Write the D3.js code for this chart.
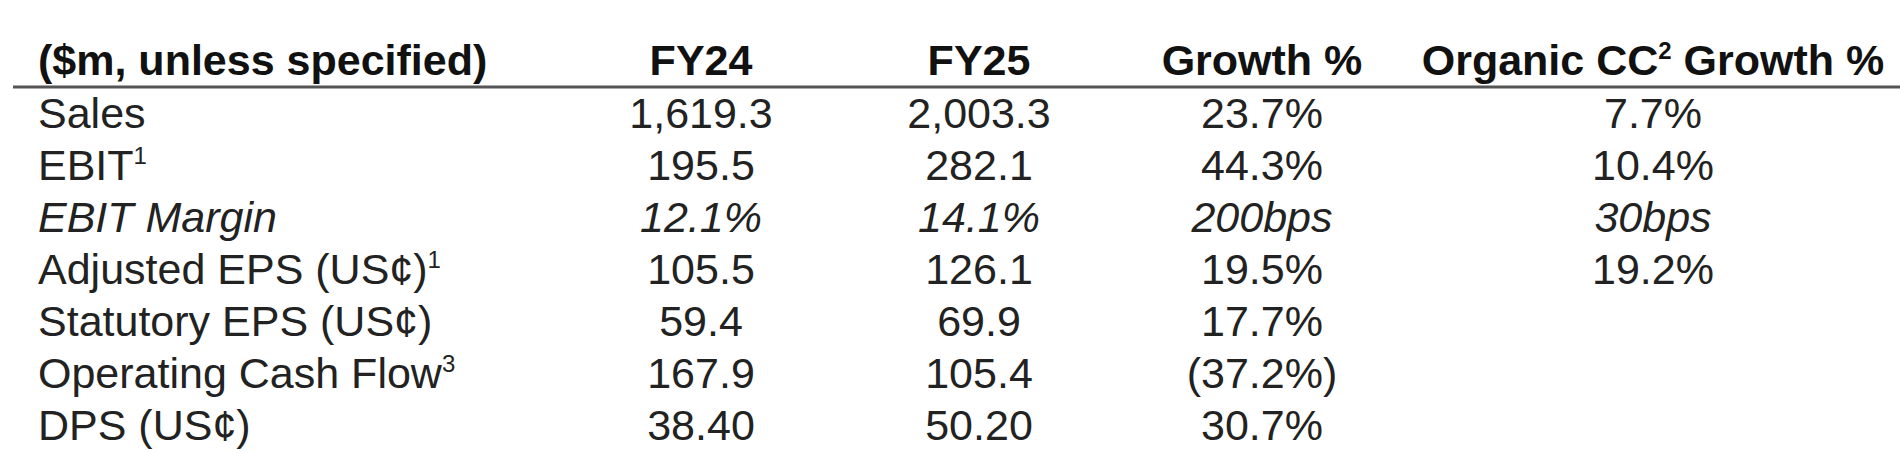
<!DOCTYPE html>
<html><head><meta charset="utf-8">
<script src="https://cdn.jsdelivr.net/npm/d3@7"></script>
<style>html,body{margin:0;background:#fff}</style>
</head><body><svg id="c" width="1900" height="453"></svg>
<script>
var columns = ["FY24", "FY25", "Growth %", "Organic CC"];
var labels = ["Sales", "EBIT", "EBIT Margin", "Adjusted EPS (US¢)", "Statutory EPS (US¢)", "Operating Cash Flow", "DPS (US¢)"];
var labelSup = ["", "1", "", "1", "", "3", ""];
var italicRows = [false, false, true, false, false, false, false];
var fy24 = ["1,619.3", "195.5", "12.1%", "105.5", "59.4", "167.9", "38.40"];
var fy25 = ["2,003.3", "282.1", "14.1%", "126.1", "69.9", "105.4", "50.20"];
var growth = ["23.7%", "44.3%", "200bps", "19.5%", "17.7%", "(37.2%)", "30.7%"];
var organic = ["7.7%", "10.4%", "30bps", "19.2%", "", "", ""];

var svg = d3.select("#c");
var font = "'Liberation Sans Narrow', 'Liberation Sans', sans-serif";
var x = d3.scaleOrdinal().domain(columns).range([701, 979, 1262, 1653]);
var y = d3.scalePoint().domain(d3.range(labels.length)).range([128, 440]);

var head = svg.append("g").attr("font-family", font).attr("font-size", 43).attr("font-weight", "bold").attr("fill", "#111");
head.append("text").attr("x", 38).attr("y", 75).text("($m, unless specified)");
columns.forEach(function (c) {
  var t = head.append("text").attr("x", x(c)).attr("y", 75).attr("text-anchor", "middle");
  if (c === "Organic CC") {
    t.append("tspan").text("Organic CC");
    t.append("tspan").attr("font-size", 24).attr("dy", -16).text("2");
    t.append("tspan").attr("dy", 16).text(" Growth %");
  } else t.text(c);
});

svg.append("line").attr("x1", 13).attr("x2", 1900).attr("y1", 87).attr("y2", 87)
  .attr("stroke", "#555").attr("stroke-width", 3);

var body = svg.append("g").attr("font-family", font).attr("font-size", 43).attr("fill", "#222");
labels.forEach(function (l, i) {
  var t = body.append("text").attr("x", 38).attr("y", y(i)).attr("font-style", italicRows[i] ? "italic" : null);
  t.append("tspan").text(l);
  if (labelSup[i]) t.append("tspan").attr("font-size", 24).attr("dy", -16).text(labelSup[i]);
  [fy24, fy25, growth, organic].forEach(function (arr, j) {
    if (!arr[i]) return;
    body.append("text").attr("x", x(columns[j])).attr("y", y(i)).attr("text-anchor", "middle")
      .attr("font-style", italicRows[i] ? "italic" : null).text(arr[i]);
  });
});
</script></body></html>
